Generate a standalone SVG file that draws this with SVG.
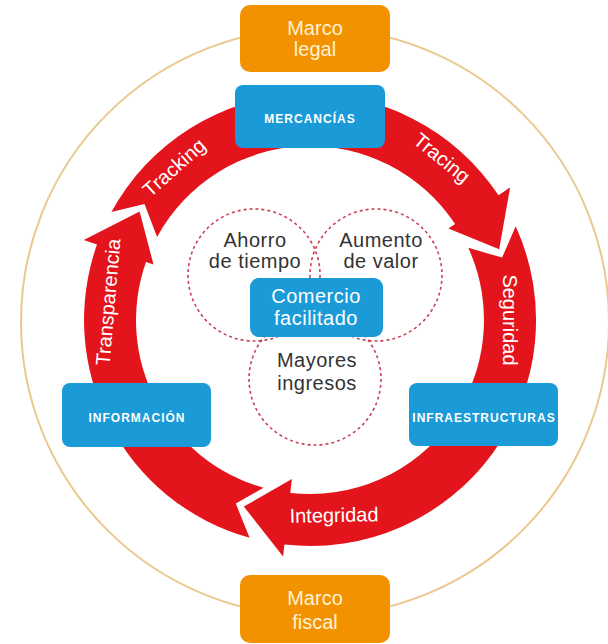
<svg xmlns="http://www.w3.org/2000/svg" width="608" height="644" viewBox="0 0 608 644">
<defs>
<style>
.ring{fill:#E3141B}
.blue{fill:#1A9AD7}
.orange{fill:#F39200}
.dash{fill:none;stroke:#C94057;stroke-width:1.6;stroke-dasharray:3 3}
.lbl{font-family:"Liberation Sans",Arial,sans-serif;font-size:20px;fill:#ffffff;text-anchor:middle}
.mt{font-family:"Liberation Sans",Arial,sans-serif;font-size:20px;fill:#FFF1D2;text-anchor:middle}
.ct{font-family:"Liberation Sans",Arial,sans-serif;font-size:20px;fill:#333333;text-anchor:middle;letter-spacing:0.5px}
.cw{font-family:"Liberation Sans",Arial,sans-serif;font-size:20px;fill:#ffffff;text-anchor:middle;letter-spacing:0.5px}
.bt{font-family:"Liberation Sans",Arial,sans-serif;font-size:12px;font-weight:bold;fill:#ffffff;text-anchor:middle;letter-spacing:1px}
</style>
</defs>
<rect width="608" height="644" fill="#ffffff"/>
<circle cx="315" cy="322" r="294" fill="none" stroke="#EBC88E" stroke-width="2"/>

<g id="connectors">
<path class="ring" d="M111.4,212.1 A226,226 0 0 1 498.5,195.3 L510.1,187.5 L499.2,249.3 L448.4,228.4 L455.1,224.0 A174,174 0 0 0 157.1,237.0 L144.5,204.1 Z"/>
<path class="ring" d="M515.7,226.3 A226,226 0 0 1 284.4,544.6 L283.1,556.5 L243.9,506.6 L291.9,479.0 L290.3,492.9 A174,174 0 0 0 468.3,247.8 L502.1,257.6 Z"/>
<path class="ring" d="M249.6,537.8 A226,226 0 0 1 97.0,244.6 L83.8,239.9 L139.6,211.5 L153.5,264.6 L146.0,261.9 A174,174 0 0 0 263.5,487.7 L235.8,503.6 Z"/>
<text class="lbl" transform="translate(174,167.5) rotate(-41.7)" y="7">Tracking</text>
<text class="lbl" transform="translate(442,158) rotate(39.2)" y="7">Tracing</text>
<text class="lbl" transform="translate(510,320) rotate(90)" y="7">Seguridad</text>
<text class="lbl" transform="translate(108,302) rotate(-85)" y="7">Transparencia</text>
<text class="lbl" transform="translate(334,515) rotate(-1)" y="7">Integridad</text>
</g>

<g id="circles">
<circle class="dash" cx="254" cy="275" r="66"/>
<circle class="dash" cx="376" cy="275" r="66"/>
<circle class="dash" cx="315" cy="379" r="66"/>
</g>

<g id="ahorro">
<text class="ct" x="255" y="247">Ahorro</text>
<text class="ct" x="255" y="268">de tiempo</text>
</g>
<g id="aumento">
<text class="ct" x="381" y="247">Aumento</text>
<text class="ct" x="381" y="268">de valor</text>
</g>
<g id="mayores">
<text class="ct" x="317" y="367">Mayores</text>
<text class="ct" x="317" y="390">ingresos</text>
</g>

<g id="comercio">
<rect class="blue" x="250" y="278" width="133" height="59" rx="9"/>
<text class="cw" x="316" y="303">Comercio</text>
<text class="cw" x="316" y="325">facilitado</text>
</g>

<g id="marco-legal">
<rect class="orange" x="240" y="5" width="150" height="67" rx="10"/>
<text class="mt" x="315" y="35">Marco</text>
<text class="mt" x="315" y="56">legal</text>
</g>
<g id="marco-fiscal">
<rect class="orange" x="240" y="575" width="150" height="68" rx="10"/>
<text class="mt" x="315" y="605">Marco</text>
<text class="mt" x="315" y="629">fiscal</text>
</g>

<g id="mercancias">
<rect class="blue" x="235" y="85" width="150" height="63" rx="8"/>
<text class="bt" x="310" y="123">MERCANCÍAS</text>
</g>
<g id="informacion">
<rect class="blue" x="62" y="383" width="149" height="64" rx="8"/>
<text class="bt" x="137" y="422">INFORMACIÓN</text>
</g>
<g id="infraestructuras">
<rect class="blue" x="409" y="383" width="149" height="63" rx="8"/>
<text class="bt" x="484" y="422">INFRAESTRUCTURAS</text>
</g>
</svg>
